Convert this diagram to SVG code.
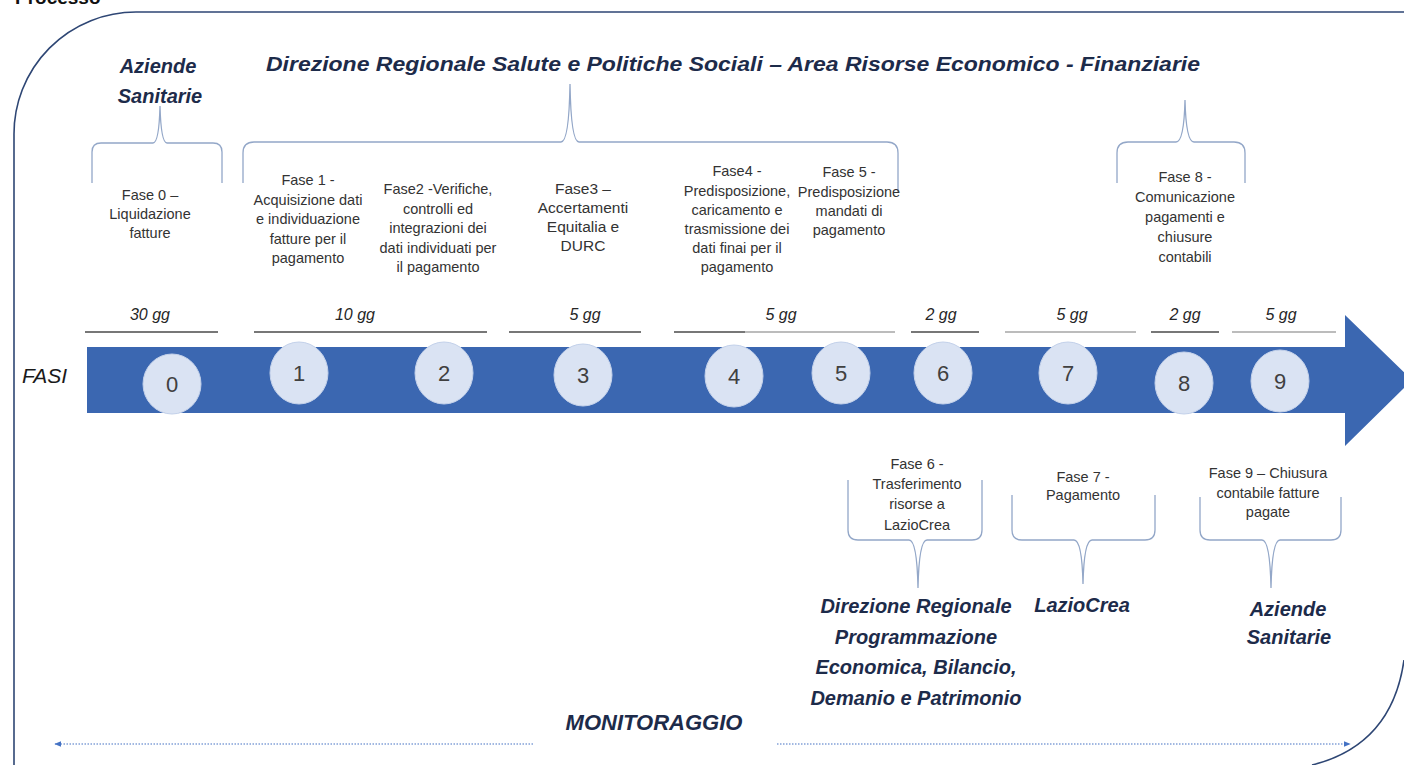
<svg xmlns="http://www.w3.org/2000/svg" width="1404" height="765" viewBox="0 0 1404 765">
<defs>
<style>
.frame{fill:none;stroke:#2E4674;stroke-width:1.6}
.brace{fill:none;stroke:#93A7C8;stroke-width:1.3}
.dur{stroke:#4A4A4A;stroke-width:1.3}
.durl{stroke:#A6A6A6;stroke-width:1.6}
.t{font-family:"Liberation Sans",Arial,sans-serif;font-size:14.5px;fill:#333;text-anchor:middle}
.h{font-family:"Liberation Sans",Arial,sans-serif;font-size:20px;font-weight:bold;font-style:italic;fill:#1D2B4A;text-anchor:middle}
.d{font-family:"Liberation Sans",Arial,sans-serif;font-size:16px;font-style:italic;fill:#262626;text-anchor:middle}
.c{fill:#DAE3F3;stroke:#C3D1EA;stroke-width:1}
.n{font-family:"Liberation Sans",Arial,sans-serif;font-size:22px;fill:#404040;text-anchor:middle}
.dot{stroke:#4472C4;stroke-width:1.2;stroke-dasharray:1.5 1.5;fill:none}
</style>
<marker id="ah" viewBox="0 0 10 10" refX="9" refY="5" markerWidth="7" markerHeight="7" orient="auto-start-reverse" markerUnits="userSpaceOnUse">
<path d="M0,1 L10,5 L0,9 Z" fill="#4472C4"/>
</marker>
</defs>
<rect x="0" y="0" width="1404" height="765" fill="#fff"/>
<text x="15" y="4" font-family="Liberation Sans,Arial,sans-serif" font-size="19" font-weight="bold" fill="#111">Processo</text>
<g id="frame">
<path class="frame" d="M14,765 L14,135 A122,122 0 0 1 136,12 L1404,12"/>
<path class="frame" d="M1404,660 Q1392,745 1312,765"/>
</g>
<g id="title">
<text class="h" x="733" y="71" textLength="934" lengthAdjust="spacingAndGlyphs">Direzione Regionale Salute e Politiche Sociali – Area Risorse Economico - Finanziarie</text>
</g>
<g id="aziende-top">
<text class="h" x="158" y="73">Aziende</text>
<text class="h" x="160" y="103">Sanitarie</text>
</g>
<g id="braces">
<path class="brace" d="M92,183 L92,152 Q92,143 101,143 L153,143 Q159,143 160,106 Q161,143 167,143 L213,143 Q222,143 222,152 L222,183"/>
<path class="brace" d="M243,183 L243,153 Q243,142 254,142 L561,142 Q569,142 570,84 Q571,142 579,142 L887,142 Q898,142 898,153 L898,192"/>
<path class="brace" d="M1117,183 L1117,153 Q1117,142 1128,142 L1176,142 Q1184,142 1185,100 Q1186,142 1194,142 L1234,142 Q1245,142 1245,153 L1245,183"/>
<path class="brace" d="M848,480 L848,530 Q848,540 858,540 L909,540 Q917,540 918,588 Q919,540 927,540 L972,540 Q982,540 982,530 L982,480"/>
<path class="brace" d="M1012,495 L1012,530 Q1012,540 1022,540 L1074,540 Q1082,540 1083,584 Q1084,540 1092,540 L1145,540 Q1155,540 1155,530 L1155,495"/>
<path class="brace" d="M1200,497 L1200,530 Q1200,540 1210,540 L1262,540 Q1270,540 1271,588 Q1272,540 1280,540 L1331,540 Q1341,540 1341,530 L1341,497"/>
</g>
<g id="fase0">
<text class="t" x="150" y="200">Fase 0 –</text>
<text class="t" x="150" y="219">Liquidazione</text>
<text class="t" x="150" y="238">fatture</text>
</g>
<g id="fase1">
<text class="t" x="308" y="185">Fase 1 -</text>
<text class="t" x="308" y="205">Acquisizione dati</text>
<text class="t" x="308" y="224">e individuazione</text>
<text class="t" x="308" y="244">fatture per il</text>
<text class="t" x="308" y="263">pagamento</text>
</g>
<g id="fase2">
<text class="t" x="438" y="194">Fase2 -Verifiche,</text>
<text class="t" x="438" y="214">controlli ed</text>
<text class="t" x="438" y="233">integrazioni dei</text>
<text class="t" x="438" y="253">dati individuati per</text>
<text class="t" x="438" y="272">il pagamento</text>
</g>
<g id="fase3">
<text class="t" x="583" y="194" style="font-size:15.5px">Fase3 –</text>
<text class="t" x="583" y="213" style="font-size:15.5px">Accertamenti</text>
<text class="t" x="583" y="232" style="font-size:15.5px">Equitalia e</text>
<text class="t" x="583" y="251" style="font-size:15.5px">DURC</text>
</g>
<g id="fase4">
<text class="t" x="737" y="176">Fase4 -</text>
<text class="t" x="737" y="196">Predisposizione,</text>
<text class="t" x="737" y="215">caricamento e</text>
<text class="t" x="737" y="234">trasmissione dei</text>
<text class="t" x="737" y="253">dati finai per il</text>
<text class="t" x="737" y="272">pagamento</text>
</g>
<g id="fase5">
<text class="t" x="849" y="177">Fase 5 -</text>
<text class="t" x="849" y="197">Predisposizione</text>
<text class="t" x="849" y="216">mandati di</text>
<text class="t" x="849" y="235">pagamento</text>
</g>
<g id="fase8">
<text class="t" x="1185" y="182">Fase 8 -</text>
<text class="t" x="1185" y="202">Comunicazione</text>
<text class="t" x="1185" y="222">pagamenti e</text>
<text class="t" x="1185" y="242">chiusure</text>
<text class="t" x="1185" y="262">contabili</text>
</g>
<g id="durations">
<line class="dur" x1="85" y1="332" x2="218" y2="332"/>
<text class="d" x="150" y="320">30 gg</text>
<line class="dur" x1="254" y1="332" x2="487" y2="332"/>
<text class="d" x="355" y="320">10 gg</text>
<line class="dur" x1="509" y1="332" x2="641" y2="332"/>
<text class="d" x="585" y="320">5 gg</text>
<line class="dur" x1="674" y1="332" x2="745" y2="332"/>
<line class="durl" x1="745" y1="332" x2="895" y2="332"/>
<text class="d" x="781" y="320">5 gg</text>
<line class="dur" x1="911" y1="332" x2="979" y2="332"/>
<text class="d" x="941" y="320">2 gg</text>
<line class="durl" x1="1005" y1="332" x2="1136" y2="332"/>
<text class="d" x="1072" y="320">5 gg</text>
<line class="dur" x1="1151" y1="332" x2="1219" y2="332"/>
<text class="d" x="1185" y="320">2 gg</text>
<line class="durl" x1="1232" y1="332" x2="1336" y2="332"/>
<text class="d" x="1281" y="320">5 gg</text>
</g>
<g id="arrow">
<path d="M87,347 L1345,347 L1345,315 L1412,380 L1345,446 L1345,413 L87,413 Z" fill="#3B67B1"/>
<text x="22" y="383" font-family="Liberation Sans,Arial,sans-serif" font-size="21" font-style="italic" fill="#1A1A1A">FASI</text>
</g>
<g id="c0"><ellipse class="c" cx="172" cy="384" rx="29" ry="30"/><text class="n" x="172" y="392">0</text></g>
<g id="c1"><ellipse class="c" cx="299" cy="373" rx="29" ry="31"/><text class="n" x="299" y="381">1</text></g>
<g id="c2"><ellipse class="c" cx="444" cy="373" rx="29" ry="31"/><text class="n" x="444" y="381">2</text></g>
<g id="c3"><ellipse class="c" cx="583" cy="375" rx="29" ry="31"/><text class="n" x="583" y="383">3</text></g>
<g id="c4"><ellipse class="c" cx="734" cy="376" rx="29" ry="31"/><text class="n" x="734" y="384">4</text></g>
<g id="c5"><ellipse class="c" cx="841" cy="373" rx="29" ry="31"/><text class="n" x="841" y="381">5</text></g>
<g id="c6"><ellipse class="c" cx="943" cy="373" rx="29" ry="31"/><text class="n" x="943" y="381">6</text></g>
<g id="c7"><ellipse class="c" cx="1068" cy="373" rx="29" ry="31"/><text class="n" x="1068" y="381">7</text></g>
<g id="c8"><ellipse class="c" cx="1184" cy="383" rx="29" ry="31"/><text class="n" x="1184" y="391">8</text></g>
<g id="c9"><ellipse class="c" cx="1280" cy="381" rx="29" ry="31"/><text class="n" x="1280" y="389">9</text></g>
<g id="fase6">
<text class="t" x="917" y="469">Fase 6 -</text>
<text class="t" x="917" y="489">Trasferimento</text>
<text class="t" x="917" y="509">risorse  a</text>
<text class="t" x="917" y="530">LazioCrea</text>
</g>
<g id="fase7">
<text class="t" x="1083" y="482">Fase 7 -</text>
<text class="t" x="1083" y="500">Pagamento</text>
</g>
<g id="fase9">
<text class="t" x="1268" y="478">Fase 9 – Chiusura</text>
<text class="t" x="1268" y="498">contabile fatture</text>
<text class="t" x="1268" y="517">pagate</text>
</g>
<g id="dir-programmazione">
<text class="h" x="916" y="613">Direzione Regionale</text>
<text class="h" x="916" y="644">Programmazione</text>
<text class="h" x="916" y="674">Economica, Bilancio,</text>
<text class="h" x="916" y="705">Demanio e Patrimonio</text>
</g>
<g id="laziocrea">
<text class="h" x="1082" y="612">LazioCrea</text>
</g>
<g id="aziende-bottom">
<text class="h" x="1288" y="616">Aziende</text>
<text class="h" x="1289" y="644">Sanitarie</text>
</g>
<g id="monitoraggio">
<text class="h" x="654" y="730" style="font-size:22px">MONITORAGGIO</text>
</g>
<g id="connectors">
<line class="dot" x1="533" y1="744" x2="55" y2="744" marker-end="url(#ah)"/>
<line class="dot" x1="777" y1="744" x2="1350" y2="744" marker-end="url(#ah)"/>
</g>
</svg>
